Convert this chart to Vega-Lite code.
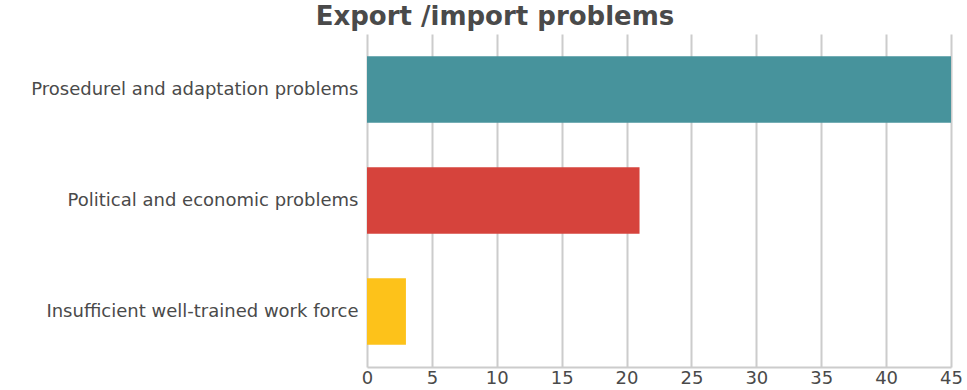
{
  "$schema": "https://vega.github.io/schema/vega-lite/v6.json",
  "width": 584,
  "height": 333,
  "autosize": "none",
  "padding": {"left": 367, "top": 34, "right": 16, "bottom": 23},
  "background": "white",
  "title": {
    "text": "Export /import problems",
    "font": "DejaVu Sans",
    "fontSize": 26,
    "fontWeight": "bold",
    "color": "#4a4a4a",
    "anchor": "middle",
    "dx": -164,
    "offset": 4
  },
  "data": {
    "values": [
      {"problem": "Prosedurel and adaptation problems", "value": 45},
      {"problem": "Political and economic problems", "value": 21},
      {"problem": "Insufficient well-trained work force", "value": 3}
    ]
  },
  "mark": {"type": "bar"},
  "encoding": {
    "y": {
      "field": "problem",
      "type": "nominal",
      "sort": null,
      "scale": {"paddingInner": 0.4, "paddingOuter": 0.2},
      "axis": {
        "title": null,
        "ticks": false,
        "domain": false,
        "labelFont": "DejaVu Sans",
        "labelFontSize": 18,
        "labelColor": "#4a4a4a",
        "labelPadding": 9,
        "labelLimit": 400
      }
    },
    "x": {
      "field": "value",
      "type": "quantitative",
      "scale": {"domain": [0, 45], "nice": false},
      "axis": {
        "title": null,
        "values": [0, 5, 10, 15, 20, 25, 30, 35, 40, 45],
        "ticks": false,
        "labelFlush": false,
        "domainColor": "#cccccc",
        "domainWidth": 2,
        "gridColor": "#cccccc",
        "gridWidth": 2,
        "labelFont": "DejaVu Sans",
        "labelFontSize": 18,
        "labelColor": "#4a4a4a",
        "labelPadding": 2
      }
    },
    "color": {
      "field": "problem",
      "type": "nominal",
      "sort": null,
      "scale": {
        "domain": ["Prosedurel and adaptation problems", "Political and economic problems", "Insufficient well-trained work force"],
        "range": ["#47939c", "#d6433c", "#fdc21a"]
      },
      "legend": null
    }
  },
  "config": {"view": {"stroke": null}}
}
